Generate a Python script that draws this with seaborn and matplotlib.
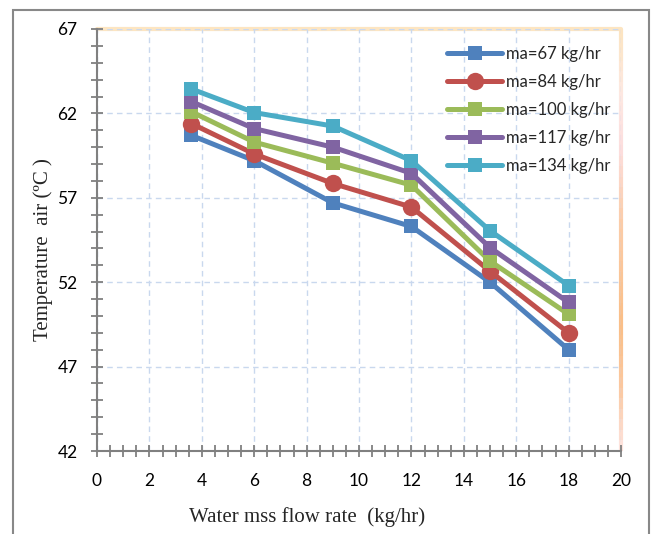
import numpy as np
import pandas as pd
import matplotlib
matplotlib.use("Agg")
import matplotlib.pyplot as plt
from matplotlib.collections import LineCollection
from matplotlib.patches import Rectangle
from matplotlib.ticker import MultipleLocator
import seaborn as sns

# ---- data ----
water_flow = [3.6, 6, 9, 12, 15, 18]
series_labels = ["ma=67 kg/hr", "ma=84 kg/hr", "ma=100 kg/hr", "ma=117 kg/hr", "ma=134 kg/hr"]
temp_ma67 = [60.7, 59.2, 56.7, 55.3, 52.0, 48.0]
temp_ma84 = [61.4, 59.6, 57.85, 56.45, 52.65, 49.0]
temp_ma100 = [62.1, 60.3, 59.05, 57.75, 53.25, 50.1]
temp_ma117 = [62.7, 61.1, 60.0, 58.45, 54.05, 50.8]
temp_ma134 = [63.45, 62.05, 61.25, 59.2, 55.05, 51.8]
x_ticks = [0, 2, 4, 6, 8, 10, 12, 14, 16, 18, 20]
y_ticks = [42, 47, 52, 57, 62, 67]

series_values = [temp_ma67, temp_ma84, temp_ma100, temp_ma117, temp_ma134]
colors = ["#4F81BD", "#C0504D", "#9BBB59", "#8064A2", "#4BACC6"]
markers = ["s", "o", "s", "s", "s"]
msizes = [10, 12.5, 10, 10, 10]

sns.set_theme(style="white")
plt.rcParams["font.family"] = ["Lato", "DejaVu Sans"]

W, H = 654, 534
fig = plt.figure(figsize=(W / 100, H / 100), dpi=100)
ax = fig.add_axes([97 / W, 1 - 451 / H, (621 - 97) / W, (451 - 29) / H])

for lab, vals, c, m, ms in zip(series_labels, series_values, colors, markers, msizes):
    df = pd.DataFrame({"x": water_flow, "y": vals})
    sns.lineplot(data=df, x="x", y="y", ax=ax, color=c, marker=m, markersize=ms,
                 markeredgewidth=0, linewidth=3.6, label=lab, solid_capstyle="round",
                 solid_joinstyle="round")

ax.set_xlim(0, 20)
ax.set_ylim(42, 67)
ax.set_xticks(x_ticks)
ax.set_yticks(y_ticks)
ax.xaxis.set_minor_locator(MultipleLocator(0.5))
ax.yaxis.set_minor_locator(MultipleLocator(1))
ax.grid(True, which="major", color="#C9D8EE", linestyle=(0, (4, 3)), linewidth=1.0)
ax.tick_params(axis="both", which="both", direction="inout", color="#808080", width=1.3,
               length=8, labelsize=12.5, labelcolor="black", bottom=True, left=True,
               top=False, right=False)
ax.tick_params(axis="y", which="major", pad=10)
ax.tick_params(axis="x", which="major", pad=12)
ax.set_xlabel("")
ax.set_ylabel("")

for s in ["left", "bottom"]:
    ax.spines[s].set_color("#808080")
    ax.spines[s].set_linewidth(1.5)
ax.spines["top"].set_visible(False)
ax.spines["right"].set_visible(False)

# top border (cream) and right border (gradient orange/pink)
ax.plot([0, 1], [1, 1], transform=ax.transAxes, color="#FCE5C2", lw=3, clip_on=False, zorder=0)
grad_y = np.linspace(1.0, 0.0, 41)
key_y = [1.0, 0.85, 0.72, 0.55, 0.3, 0.15, 0.0]
key_c = np.array([[252, 228, 191], [253, 232, 225], [252, 222, 222], [251, 205, 170],
                  [250, 190, 135], [251, 200, 160], [253, 228, 224]]) / 255.0
cols = [[np.interp((grad_y[i] + grad_y[i + 1]) / 2, key_y[::-1], key_c[::-1, k]) for k in range(3)]
        for i in range(len(grad_y) - 1)]
segs = [[(1, grad_y[i]), (1, grad_y[i + 1])] for i in range(len(grad_y) - 1)]
lc = LineCollection(segs, colors=cols, linewidths=3, transform=ax.transAxes,
                    clip_on=False, zorder=0, capstyle="butt")
ax.add_collection(lc)

# legend
handles, labels = ax.get_legend_handles_labels()
leg = ax.legend(handles, labels, loc="upper left", bbox_to_anchor=(447 / W, 1 - 46 / H),
                bbox_transform=fig.transFigure, frameon=False, fontsize=12,
                handlelength=3.3, handletextpad=0.25, labelspacing=0.72,
                borderpad=0, borderaxespad=0)

# axis labels (Times-like)
fig.text(307 / W, 1 - 517 / H, "Water mss flow rate  (kg/hr)", family="Liberation Serif",
         fontsize=15, ha="center", va="center")
fig.text(43 / W, 1 - 250 / H, "Temperature  air (ºC )", family="Liberation Serif",
         fontsize=15, ha="center", va="center", rotation=90)

# outer chart frame
fig.patches.append(Rectangle((13 / W, -0.02), (649 - 13) / W, 1.02 - 10 / H,
                             transform=fig.transFigure, fill=False, edgecolor="#888888",
                             linewidth=1.5))

fig.savefig("out.png", dpi=100)
